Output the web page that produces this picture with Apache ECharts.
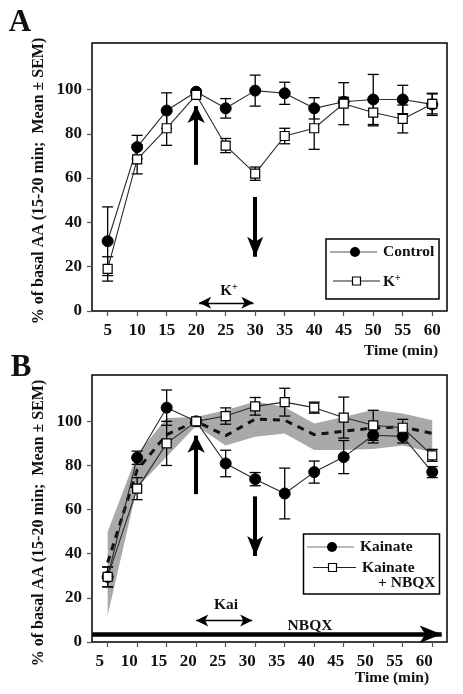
<!DOCTYPE html>
<html>
<head>
<meta charset="utf-8">
<script src="https://cdn.jsdelivr.net/npm/echarts@6/dist/echarts.min.js"></script>
<style>html,body{margin:0;padding:0;background:#fff;}#c{width:463px;height:694px;}</style>
</head>
<body>
<div id="c"></div>
<script>
// ---- data ----
const time = [5, 10, 15, 20, 25, 30, 35, 40, 45, 50, 55, 60];
const yTickValues = [0, 20, 40, 60, 80, 100];
const xTickValues = [5, 10, 15, 20, 25, 30, 35, 40, 45, 50, 55, 60];

// Panel A
const controlA = [31.5, 74, 90.5, 99, 91.5, 99.5, 98.3, 91.5, 94.5, 95.5, 95.5, 93.3];
const controlSemA = [15.5, 5.3, 8, 0.5, 4.4, 7, 5, 4.8, 2, 11.3, 6.4, 5];
const kA = [19, 68.5, 82.5, 97.6, 74.7, 62, 79, 82.5, 93.6, 89.6, 86.7, 93.5];
const kSemA = [5.5, 6.6, 7.7, 0.5, 3.2, 3, 3.5, 9.5, 9.5, 6, 6.3, 4.5];

// Panel B
const kainateB = [29.5, 83.5, 106.2, 100, 80.9, 73.8, 67.3, 77, 83.8, 93.7, 93.2, 77];
const kainateSemB = [4.5, 3, 8, 0.5, 6, 3, 11.5, 5, 7.5, 3.5, 3, 2.5];
const nbqxB = [29.5, 69.5, 90, 100, 102.4, 106.8, 108.7, 106.2, 101.7, 98.2, 97.1, 84.6];
const nbqxSemB = [4.5, 5, 10, 0.5, 3.7, 4, 6.3, 2.5, 9.3, 6.8, 3.8, 2.7];
const dashedB = [36, 78, 94, 100, 93.5, 101, 100.5, 94, 95.5, 97, 97.5, 94.5];
const bandUpperB = [50, 85, 101.5, 102, 105, 109, 106.5, 99, 102, 105.3, 103.5, 100.5];
const bandLowerB = [12, 70, 84, 98, 89, 93, 94.5, 87, 87, 87.5, 89, 86];

// ---- helpers ----
const FONT = 'Liberation Serif';
const pairs = (xs, ys) => xs.map((x, i) => [x, ys[i]]);
const errData = (xs, ys, es) => xs.map((x, i) => [x, ys[i] - es[i], ys[i] + es[i]]);

function errorBarSeries(data, xi, color) {
  return {
    type: 'custom', xAxisIndex: xi, yAxisIndex: xi, data: data, z: 3, silent: true,
    encode: { x: 0, y: [1, 2] },
    renderItem: function (params, api) {
      const x = api.value(0), lo = api.value(1), hi = api.value(2);
      const p1 = api.coord([x, hi]), p2 = api.coord([x, lo]);
      const w = 5.5;
      const st = { stroke: color, lineWidth: 1.3 };
      return {
        type: 'group', children: [
          { type: 'line', shape: { x1: p1[0], y1: p1[1], x2: p2[0], y2: p2[1] }, style: st },
          { type: 'line', shape: { x1: p1[0] - w, y1: p1[1], x2: p1[0] + w, y2: p1[1] }, style: st },
          { type: 'line', shape: { x1: p2[0] - w, y1: p2[1], x2: p2[0] + w, y2: p2[1] }, style: st }
        ]
      };
    }
  };
}

function xAxisCfg(gi, shiftLeft) {
  return {
    type: 'value', gridIndex: gi, min: 2.35, max: 62.5,
    axisLine: { show: false },
    splitLine: { show: false },
    axisTick: { show: true, customValues: xTickValues, length: 5, lineStyle: { color: '#555', width: 1.2 } },
    axisLabel: {
      customValues: xTickValues, margin: 11, fontFamily: FONT, fontWeight: 'bold', fontSize: 17, color: '#111',
      padding: shiftLeft ? [0, 16, 0, 0] : 0
    }
  };
}
function yAxisCfg(gi) {
  return {
    type: 'value', gridIndex: gi, min: 0, max: 121,
    axisLine: { show: false },
    splitLine: { show: false },
    axisTick: { show: true, customValues: yTickValues, length: 5, lineStyle: { color: '#555', width: 1.2 } },
    axisLabel: { customValues: yTickValues, margin: 10, fontFamily: FONT, fontWeight: 'bold', fontSize: 17, color: '#111' }
  };
}

const lineStyleThin = { color: '#2a2a2a', width: 1.1 };
const arrowLine = (x1, y1, x2, y2, width, startSym, endSym, size) => [
  { coord: [x1, y1], symbol: startSym, symbolSize: size, lineStyle: { width: width, color: '#000', type: 'solid' } },
  { coord: [x2, y2], symbol: endSym, symbolSize: size }
];

const txt = (x, y, text, size, extra) => Object.assign({
  type: 'text', x: x, y: y, silent: true,
  style: Object.assign({ text: text, fill: '#111', font: 'bold ' + size + 'px "' + FONT + '"', align: 'center', verticalAlign: 'middle' }, (extra && extra.style) || {})
}, extra && extra.rotation !== undefined ? { rotation: extra.rotation } : {});

const chart = echarts.init(document.getElementById('c'), null, { renderer: 'canvas' });

const option = {
  animation: false,
  backgroundColor: '#fff',
  grid: [
    { left: 92, top: 43, width: 355, height: 268, show: true, borderColor: '#000', borderWidth: 1.5, backgroundColor: 'transparent' },
    { left: 92, top: 375, width: 355, height: 267, show: true, borderColor: '#000', borderWidth: 1.5, backgroundColor: 'transparent' }
  ],
  xAxis: [xAxisCfg(0, false), xAxisCfg(1, true)],
  yAxis: [yAxisCfg(0), yAxisCfg(1)],
  series: [
    // ---------- Panel A ----------
    errorBarSeries(errData(time, controlA, controlSemA), 0, '#000'),
    errorBarSeries(errData(time, kA, kSemA), 0, '#000'),
    {
      name: 'Control', type: 'line', xAxisIndex: 0, yAxisIndex: 0, data: pairs(time, controlA), z: 4,
      symbol: 'circle', symbolSize: 11, showAllSymbol: true,
      lineStyle: lineStyleThin, itemStyle: { color: '#000', borderColor: '#000' },
      markLine: {
        silent: true, animation: false, label: { show: false }, emphasis: { disabled: true },
        data: [
          arrowLine(20, 66, 20, 92.5, 4, 'none', 'arrow', [13, 17]),
          arrowLine(30, 51.5, 30, 24.5, 4, 'none', 'arrow', [12, 20]),
          arrowLine(20.5, 3.7, 29.7, 3.7, 1.4, 'arrow', 'arrow', [9, 12])
        ]
      }
    },
    {
      name: 'K+', type: 'line', xAxisIndex: 0, yAxisIndex: 0, data: pairs(time, kA), z: 5,
      symbol: 'rect', symbolSize: 9, showAllSymbol: true,
      lineStyle: lineStyleThin, itemStyle: { color: '#fff', borderColor: '#000', borderWidth: 1.2 }
    },
    // ---------- Panel B ----------
    {
      type: 'custom', xAxisIndex: 1, yAxisIndex: 1, z: 1, silent: true,
      data: time.map((t, i) => [t, bandLowerB[i], bandUpperB[i]]),
      encode: { x: 0, y: [1, 2] },
      renderItem: function (params, api) {
        if (params.dataIndex !== 0) return null;
        const n = params.dataInsideLength;
        const up = [], lo = [];
        for (let i = 0; i < n; i++) {
          up.push(api.coord([api.value(0, i), api.value(2, i)]));
          lo.push(api.coord([api.value(0, i), api.value(1, i)]));
        }
        return { type: 'polygon', shape: { points: up.concat(lo.reverse()) }, style: { fill: '#a9a9a9' } };
      }
    },
    {
      name: 'dashed', type: 'line', xAxisIndex: 1, yAxisIndex: 1, data: pairs(time, dashedB), z: 2,
      symbol: 'none', lineStyle: { color: '#111', width: 3, type: [7, 6] }
    },
    errorBarSeries(errData(time, kainateB, kainateSemB), 1, '#000'),
    errorBarSeries(errData(time, nbqxB, nbqxSemB), 1, '#000'),
    {
      name: 'Kainate', type: 'line', xAxisIndex: 1, yAxisIndex: 1, data: pairs(time, kainateB), z: 4,
      symbol: 'circle', symbolSize: 11, showAllSymbol: true,
      lineStyle: lineStyleThin, itemStyle: { color: '#000', borderColor: '#000' },
      markLine: {
        silent: true, animation: false, label: { show: false }, emphasis: { disabled: true },
        data: [
          arrowLine(20, 67, 20, 93.5, 4, 'none', 'arrow', [13, 17]),
          arrowLine(30, 66, 30, 39, 4, 'none', 'arrow', [12, 20]),
          arrowLine(20, 9.8, 29.5, 9.8, 1.4, 'arrow', 'arrow', [9, 12]),
          arrowLine(2.4, 3.5, 61.6, 3.5, 4.5, 'none', 'arrow', [13, 22])
        ]
      }
    },
    {
      name: 'Kainate + NBQX', type: 'line', xAxisIndex: 1, yAxisIndex: 1, data: pairs(time, nbqxB), z: 5,
      symbol: 'rect', symbolSize: 9, showAllSymbol: true,
      lineStyle: lineStyleThin, itemStyle: { color: '#fff', borderColor: '#000', borderWidth: 1.2 }
    }
  ],
  graphic: [
    // panel letters
    txt(20, 23, 'A', 31),
    txt(21, 368, 'B', 31),
    // y axis titles
    txt(39, 181, '% of basal AA (15-20 min;  Mean \u00b1 SEM)', 16, { rotation: Math.PI / 2 }),
    txt(39, 523, '% of basal AA (15-20 min;  Mean \u00b1 SEM)', 16, { rotation: Math.PI / 2 }),
    // x axis titles
    txt(401, 351, 'Time (min)', 15.5),
    txt(392, 678, 'Time (min)', 15.5),
    // annotations
    {
      type: 'text', x: 229, y: 291, silent: true,
      style: {
        text: 'K{sup|+}', fill: '#111', font: 'bold 15px "' + FONT + '"', align: 'center', verticalAlign: 'middle',
        rich: { sup: { fontFamily: FONT, fontWeight: 'bold', fontSize: 10, verticalAlign: 'top', padding: [0, 0, 8, 0] } }
      }
    },
    txt(226, 605, 'Kai', 15.5),
    txt(310, 626, 'NBQX', 15.5),
    // legend A
    { type: 'rect', shape: { x: 326, y: 239, width: 113, height: 60 }, style: { fill: '#fff', stroke: '#000', lineWidth: 1.5 }, z: 10 },
    { type: 'line', shape: { x1: 330, y1: 252, x2: 377, y2: 252 }, style: { stroke: '#555', lineWidth: 1 }, z: 11 },
    { type: 'circle', shape: { cx: 355, cy: 252, r: 5 }, style: { fill: '#000' }, z: 12 },
    { type: 'text', x: 383, y: 252, z: 12, style: { text: 'Control', fill: '#111', font: 'bold 15.5px "' + FONT + '"', align: 'left', verticalAlign: 'middle' } },
    { type: 'line', shape: { x1: 333, y1: 281, x2: 380, y2: 281 }, style: { stroke: '#222', lineWidth: 1 }, z: 11 },
    { type: 'rect', shape: { x: 352.5, y: 277, width: 8, height: 8 }, style: { fill: '#fff', stroke: '#000', lineWidth: 1.2 }, z: 12 },
    {
      type: 'text', x: 383, y: 282, z: 12,
      style: {
        text: 'K{sup|+}', fill: '#111', font: 'bold 15.5px "' + FONT + '"', align: 'left', verticalAlign: 'middle',
        rich: { sup: { fontFamily: FONT, fontWeight: 'bold', fontSize: 10, verticalAlign: 'top', padding: [0, 0, 8, 0] } }
      }
    },
    // legend B
    { type: 'rect', shape: { x: 303.5, y: 534, width: 136, height: 60 }, style: { fill: '#fff', stroke: '#000', lineWidth: 1.5 }, z: 10 },
    { type: 'line', shape: { x1: 307, y1: 547, x2: 354, y2: 547 }, style: { stroke: '#777', lineWidth: 1 }, z: 11 },
    { type: 'circle', shape: { cx: 332, cy: 547, r: 5 }, style: { fill: '#000' }, z: 12 },
    { type: 'text', x: 360, y: 547, z: 12, style: { text: 'Kainate', fill: '#111', font: 'bold 15.5px "' + FONT + '"', align: 'left', verticalAlign: 'middle' } },
    { type: 'line', shape: { x1: 313, y1: 567.5, x2: 356, y2: 567.5 }, style: { stroke: '#222', lineWidth: 1 }, z: 11 },
    { type: 'rect', shape: { x: 328.5, y: 563.5, width: 8, height: 8 }, style: { fill: '#fff', stroke: '#000', lineWidth: 1.2 }, z: 12 },
    { type: 'text', x: 362, y: 568, z: 12, style: { text: 'Kainate', fill: '#111', font: 'bold 15.5px "' + FONT + '"', align: 'left', verticalAlign: 'middle' } },
    { type: 'text', x: 378, y: 583, z: 12, style: { text: '+ NBQX', fill: '#111', font: 'bold 15.5px "' + FONT + '"', align: 'left', verticalAlign: 'middle' } }
  ]
};
chart.setOption(option);
</script>
</body>
</html>
